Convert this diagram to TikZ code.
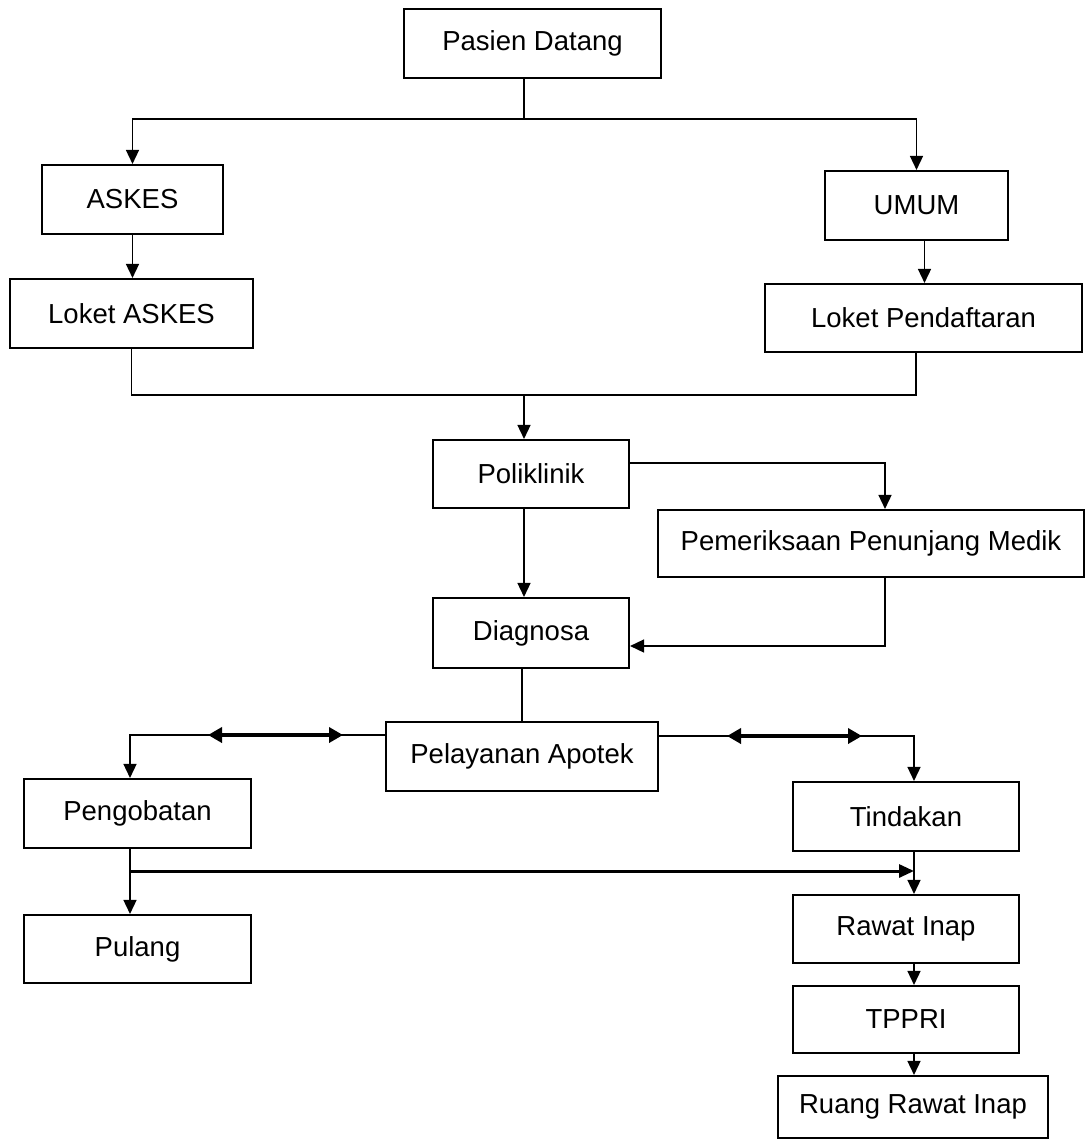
\documentclass[tikz,border=0pt]{standalone}
\usepackage{fontspec}
\setmainfont{Liberation Sans}
\usetikzlibrary{arrows.meta,calc}
\begin{document}
\begin{tikzpicture}[x=1pt,y=-1pt,
  box/.style={draw, line width=2.1pt, rectangle, inner sep=0pt, align=center,
    font=\fontsize{27.5}{33}\selectfont},
  conn/.style={line width=1.5pt},
  arr/.style={conn, -{Triangle[length=14pt,width=13pt]}},
  dbl/.style={line width=3.8pt, {Triangle[length=14pt,width=15pt]}-{Triangle[length=14pt,width=15pt]}}]
\useasboundingbox (0,0) rectangle (1086,1140);
\fill[white] (0,0) rectangle (1086,1140);

\node[box, minimum width=257pt, minimum height=69pt] (pasien) at (532.5,43.5) {Pasien Datang};
\node[box, minimum width=181pt, minimum height=69pt] (askes) at (132.5,199.5) {ASKES};
\node[box, minimum width=183pt, minimum height=69pt] (umum) at (916.5,205.5) {UMUM};
\node[box, minimum width=243pt, minimum height=69pt] (loketaskes) at (131.5,313.5) {Loket ASKES};
\node[box, minimum width=317pt, minimum height=68pt] (loketpend) at (923.5,318) {Loket Pendaftaran};
\node[box, minimum width=196pt, minimum height=68pt] (poli) at (531,474) {Poliklinik};
\node[box, minimum width=426pt, minimum height=67pt] (periksa) at (871,543.5) {Pemeriksaan Penunjang Medik};
\node[box, minimum width=196pt, minimum height=70pt] (diag) at (531,633) {Diagnosa};
\node[box, minimum width=272pt, minimum height=69pt] (apotek) at (522,756.5) {Pelayanan Apotek};
\node[box, minimum width=227pt, minimum height=69pt] (pengobatan) at (137.5,813.5) {Pengobatan};
\node[box, minimum width=226pt, minimum height=69pt] (tindakan) at (906,816.5) {Tindakan};
\node[box, minimum width=227pt, minimum height=68pt] (pulang) at (137.5,949) {Pulang};
\node[box, minimum width=226pt, minimum height=68pt] (rawat) at (906,929) {Rawat Inap};
\node[box, minimum width=226pt, minimum height=67pt] (tppri) at (906,1019.5) {TPPRI};
\node[box, minimum width=270pt, minimum height=62pt] (ruang) at (913,1107) {Ruang Rawat Inap};

% top split
\coordinate (j1) at (524,119);
\draw[conn] (pasien.south -| j1) -- (j1);
\draw[arr] (j1) -| (askes.north);
\draw[arr] (j1) -| (umum.north);
\draw[arr] (askes.south) -- (askes.south |- loketaskes.north);
\draw[arr] ([xshift=8pt]umum.south) -- ([xshift=8pt]umum.south |- loketpend.north);

% merge to Poliklinik
\coordinate (j2) at (524,395);
\coordinate (lpb) at (916,352);
\draw[conn] (loketaskes.south) |- (j2) -| (lpb);
\draw[arr] (j2) -- (j2 |- poli.north);

% Poliklinik branches
\coordinate (pk) at (885,463);
\draw[arr] ([yshift=11pt]poli.east) -- (pk) -- (pk |- periksa.north);
\draw[arr] (poli.south -| j2) -- (diag.north -| j2);
\draw[arr] (periksa.south -| pk) |- ([yshift=-13pt]diag.east);

% Diagnosa to Apotek
\draw[conn] (diag.south -| apotek) -- (apotek.north);

% Apotek branches
\coordinate (al) at (130,735);
\coordinate (ar) at (914,736);
\draw[arr] (apotek.west |- al) -- (al) -- (al |- pengobatan.north);
\draw[arr] (apotek.east |- ar) -- (ar) -- (ar |- tindakan.north);
\coordinate (d1a) at (208,735); \coordinate (d1b) at (343,735);
\coordinate (d2a) at (727,736); \coordinate (d2b) at (862,736);
\draw[dbl] (d1a) -- (d1b);
\draw[dbl] (d2a) -- (d2b);

% Pengobatan branches
\coordinate (pj) at (130,871);
\draw[arr] (pengobatan.south -| pj) -- (pulang.north -| pj);
\draw[line width=3pt, -{Triangle[length=15pt,width=13pt]}] (pj) -- (ar |- pj);

% right column
\draw[arr] (tindakan.south -| ar) -- (rawat.north -| ar);
\draw[arr] (rawat.south -| ar) -- (tppri.north -| ar);
\draw[arr] (tppri.south -| ar) -- (ruang.north -| ar);
\end{tikzpicture}
\end{document}
